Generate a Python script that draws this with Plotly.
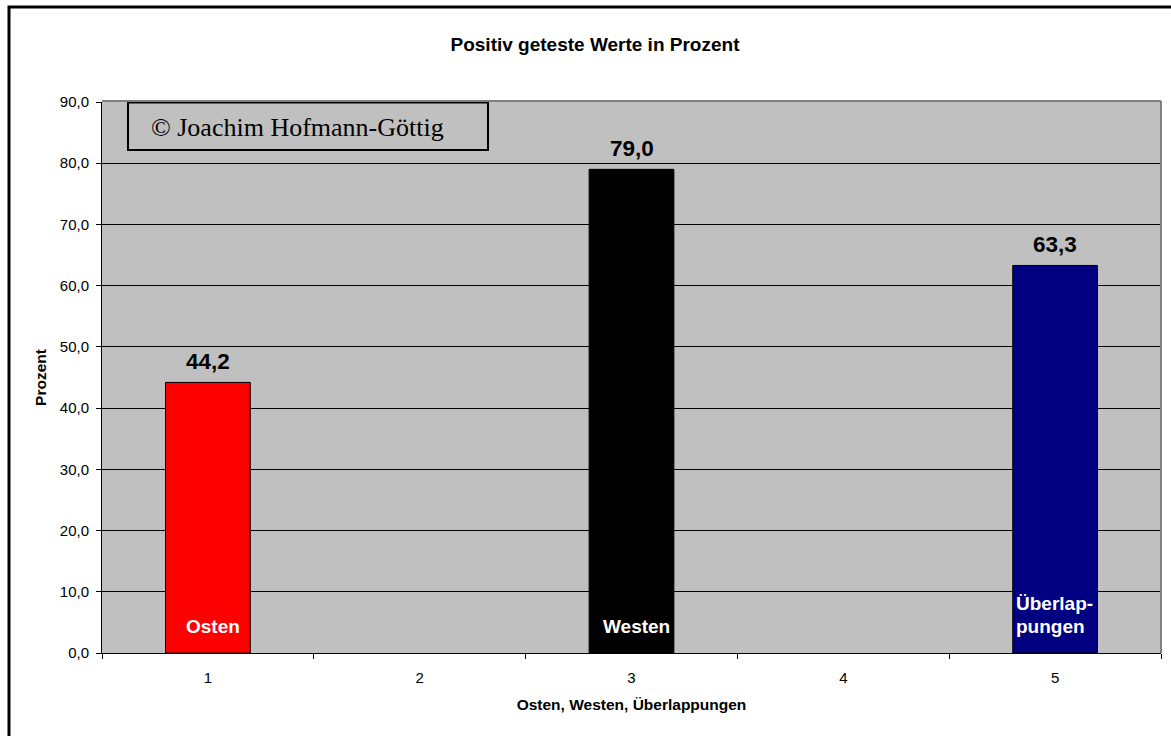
import plotly.graph_objects as go

# Chart data
categories = ["1", "2", "3", "4", "5"]
bar_x = ["1", "3", "5"]
values = [44.2, 79.0, 63.3]
bar_names = ["Osten", "Westen", "Überlap-<br>pungen"]
bar_colors = ["#FF0000", "#000000", "#000080"]
y_ticks = [0, 10, 20, 30, 40, 50, 60, 70, 80, 90]

title_text = "Positiv geteste Werte in Prozent"
x_title = "Osten, Westen, Überlappungen"
y_title = "Prozent"
credit = "© Joachim Hofmann-Göttig"

# Page geometry (pixels)
W, H = 1171, 736
PL, PR, PT, PB = 102, 1161, 102, 653


def fx(p):
    return (p - PL) / (PR - PL)


def fy(p):
    return (PB - p) / (PB - PT)


SANS = "Liberation Sans, Arial, sans-serif"
SERIF = "Liberation Serif, Times New Roman, serif"


def de(v):
    return f"{v:.1f}".replace(".", ",")


fig = go.Figure()
fig.add_trace(go.Bar(
    x=bar_x, y=values, width=0.4,
    marker=dict(color=bar_colors, line=dict(color="#000000", width=1)),
    hoverinfo="skip",
))

annotations = []
# value labels above bars (category positions given by index)
for cx, v in zip(bar_x, values):
    annotations.append(dict(
        x=categories.index(cx), y=v, xref="x", yref="y", text=de(v), showarrow=False,
        yanchor="bottom", yshift=6,
        font=dict(family=SANS, size=22.5, color="#000000", weight="bold"),
    ))

# category names inside the bars; multi-line names are drawn line by line,
# left-aligned, with a tighter line step than the default
name_font = dict(family=SANS, size=19, color="#FFFFFF", weight="bold")
LINE_STEP = 23.5
for cx, name in zip(bar_x, bar_names):
    lines = name.split("<br>")
    xi = categories.index(cx)
    if len(lines) == 1:
        annotations.append(dict(
            x=xi, y=0, xref="x", yref="y", text=name, showarrow=False,
            xanchor="center", yanchor="bottom", xshift=5, yshift=14, font=name_font,
        ))
    else:
        for i, line in enumerate(lines):
            k = len(lines) - 1 - i
            annotations.append(dict(
                x=xi, y=0, xref="x", yref="y", text=line, showarrow=False,
                xanchor="left", yanchor="bottom", xshift=-41,
                yshift=14 + k * LINE_STEP, font=name_font,
            ))

# credit text
annotations.append(dict(
    x=fx(149), y=fy(127), xref="paper", yref="paper", text=credit,
    showarrow=False, xanchor="left", yanchor="middle",
    font=dict(family=SERIF, size=26, color="#000000"),
))

shapes = [
    # credit box
    dict(type="rect", xref="paper", yref="paper",
         x0=fx(128), x1=fx(488), y0=fy(150), y1=fy(102.5),
         line=dict(color="#000000", width=2), fillcolor="#C0C0C0", layer="above"),
    # plot area border (top and right)
    dict(type="line", xref="paper", yref="paper", x0=0, x1=1, y0=fy(101), y1=fy(101),
         line=dict(color="#808080", width=2), layer="above"),
    dict(type="line", xref="paper", yref="paper", x0=fx(1161), x1=fx(1161), y0=0, y1=fy(101),
         line=dict(color="#808080", width=2), layer="above"),
    # chart frame
    dict(type="rect", xref="paper", yref="paper",
         x0=fx(9), x1=fx(1190), y0=fy(760), y1=fy(7),
         line=dict(color="#000000", width=3), fillcolor="rgba(0,0,0,0)", layer="above"),
]

fig.update_layout(
    width=W, height=H,
    margin=dict(l=PL, r=W - PR, t=PT, b=H - PB, pad=0),
    paper_bgcolor="#FFFFFF", plot_bgcolor="#C0C0C0",
    separators=",.",
    showlegend=False,
    title=dict(text=title_text, x=595 / W, xref="container", xanchor="center",
               y=1 - 44 / H, yref="container", yanchor="middle",
               font=dict(family=SANS, size=19, color="#000000", weight="bold")),
    xaxis=dict(
        type="category", categoryorder="array", categoryarray=categories,
        range=[-0.5, 4.5], tickson="boundaries", ticks="outside", ticklen=5,
        tickcolor="#000000", showline=True, linecolor="#000000", linewidth=1,
        showgrid=False, zeroline=False, ticklabelstandoff=11,
        tickfont=dict(family=SANS, size=15, color="#000000"),
        title=dict(text=x_title, standoff=14,
                   font=dict(family=SANS, size=15.5, color="#000000", weight="bold")),
    ),
    yaxis=dict(
        range=[0, 90], tickvals=y_ticks, tickformat=".1f", ticks="outside", ticklen=5,
        tickcolor="#000000", showline=True, linecolor="#000000", linewidth=1,
        showgrid=True, gridcolor="#000000", gridwidth=1, zeroline=False,
        ticklabelstandoff=4,
        tickfont=dict(family=SANS, size=15, color="#000000"),
        title=dict(text=y_title, standoff=9,
                   font=dict(family=SANS, size=15.5, color="#000000", weight="bold")),
    ),
    annotations=annotations,
    shapes=shapes,
)

fig.write_html("out.html")
